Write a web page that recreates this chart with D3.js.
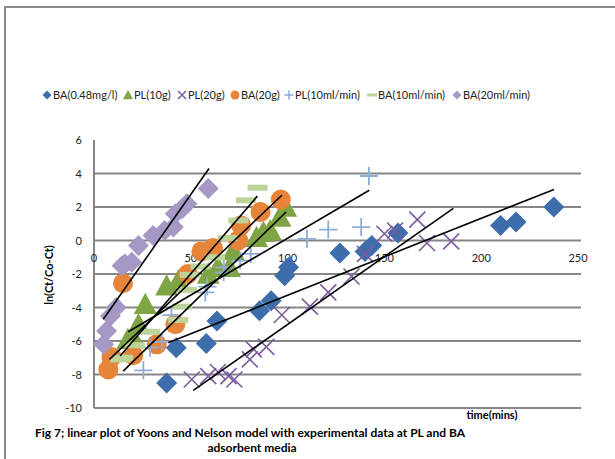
<!DOCTYPE html>
<html>
<head>
<meta charset="utf-8">
<script src="https://cdn.jsdelivr.net/npm/d3@7"></script>
<style>
  body { margin: 0; background: #fff; }
  svg { display: block; font-family: Lato, "Open Sans", sans-serif; }
</style>
</head>
<body>
<svg id="chart" width="615" height="459"></svg>
<script>
// series values: [time (mins), ln(Ct/Co-Ct)]
var ba048 = [[37.5,-8.5],[42.5,-6.4],[58,-6.15],[63.5,-4.8],[85.5,-4.2],[91.5,-3.6],
  [98.5,-2.1],[100.5,-1.6],[127,-0.75],[140,-0.65],[143.5,-0.3],[157,0.45],[210,0.9],[218,1.1],[237.5,2.0]];
var pl10g = [[17.5,-5.9],[20.5,-5.8],[23,-5.0],[26.5,-3.8],[37.5,-2.7],[43.5,-2.4],[59,-2.0],[64,-1.6],
  [70,-1.6],[72,-0.6],[84,0.2],[87.5,0.5],[91,0.6],[96,1.4],[99,2.0]];
var pl20g = [[50.5,-8.3],[59,-8.1],[64,-7.85],[69.5,-8.1],[72.5,-8.3],[80.5,-7.1],[82.5,-6.5],[89,-6.35],
  [97,-4.45],[111.5,-3.95],[121,-3.1],[133,-2.15],[140,-0.8],[150,0.4],[155.5,0.6],[167,1.25],[172,-0.15],[184.5,-0.05]];
var ba20g = [[7.4,-7.7],[9,-6.95],[15,-2.55],[20.3,-6.85],[32.4,-6.2],[42,-5.0],[48.5,-2.0],[55.5,-0.65],
  [61.5,-0.45],[74.5,0.0],[76,0.9],[86,1.7],[96.5,2.45]];
var pl10ml = [[25.5,-7.75],[29,-6.4],[35,-6.05],[40,-4.45],[57.5,-3.1],[58.5,-2.75],[67,-1.6],[67,-1.9],
  [75.5,-1.2],[81,-0.8],[110,0.1],[121,0.65],[138,0.8],[142,3.85]];
var ba10ml = [[13.5,-7.1],[15,-7.0],[21,-6.25],[29,-5.45],[43.5,-4.75],[45.5,-3.95],[48,-2.95],[49.5,-2.05],
  [55,-1.55],[62.5,-1.0],[69,0.15],[74.5,1.2],[78.5,2.4],[84.5,3.15]];
var ba20ml = [[5,-6.2],[6.5,-5.4],[8.5,-4.5],[11.5,-4.0],[14.5,-1.5],[16,-1.4],[19.5,-1.3],[23,-0.3],
  [30.5,0.3],[36.5,0.6],[41,0.8],[42,1.6],[45.5,1.9],[48,2.2],[59,3.1]];

var seriesNames = ["BA(0.48mg/l)","PL(10g)","PL(20g)","BA(20g)","PL(10ml/min)","BA(10ml/min)","BA(20ml/min)"];
var seriesData = [ba048, pl10g, pl20g, ba20g, pl10ml, ba10ml, ba20ml];
var seriesColors = ["#3d6daa","#7fa444","#7c5c9e","#e6843a","#8eacd8","#bcd49a","#a598c4"];
var seriesMarks = ["diamond","triangle","cross","circle","plus","dash","diamond"];

// linear trendlines: [x1, y1, x2, y2]
var trendlines = [[38.3,-6.1,237.6,3.05],[15.1,-7.8,99.2,1.7],[51.3,-8.95,185.6,1.92],
  [8,-7.1,97,2.7],[17.7,-5.45,142.2,3.0],[13.5,-6.9,84.4,2.65],[4.8,-4.7,59.4,4.3]];

var yTicks = [6,4,2,0,-2,-4,-6,-8,-10];
var xTicks = [0,50,100,150,200,250];
var legendX = [47,128,182,235,289,372,457];

var svg = d3.select("#chart");

// outer frame
svg.append("rect").attr("x",5).attr("y",7).attr("width",640).attr("height",480)
  .attr("fill","none").attr("stroke","#8a8a8a").attr("stroke-width",2);

var x = d3.scaleLinear().domain([0,250]).range([94,578]);
var y = d3.scaleLinear().domain([-10,6]).range([408,140]);

// gridlines
svg.append("g").selectAll("line")
  .data(yTicks.filter(function(d){ return d < 6; }))
  .enter().append("line")
  .attr("x1",x(0)).attr("x2",581)
  .attr("y1",function(d){ return y(d); }).attr("y2",function(d){ return y(d); })
  .attr("stroke","#868686").attr("stroke-width",2);

svg.append("line").attr("x1",x(0)).attr("x2",x(0)).attr("y1",y(6)).attr("y2",y(-10))
  .attr("stroke","#868686").attr("stroke-width",2);

// y tick labels
svg.append("g").selectAll("text").data(yTicks).enter().append("text")
  .attr("x",82).attr("y",function(d){ return y(d) + 4; })
  .attr("text-anchor","end").attr("font-size",11).attr("fill","#222")
  .text(function(d){ return d; });

// x tick labels (axis crosses at 0)
svg.append("g").selectAll("text").data(xTicks).enter().append("text")
  .attr("x",function(d){ return x(d); }).attr("y",y(0) + 21)
  .attr("text-anchor","middle").attr("font-size",11).attr("fill","#222")
  .text(function(d){ return d; });

function drawMark(g, type, color, s) {
  // s = half size
  if (type === "diamond") {
    g.append("path").attr("d","M0,"+(-s)+"L"+s+",0L0,"+s+"L"+(-s)+",0Z").attr("fill",color);
  } else if (type === "triangle") {
    g.append("path").attr("d","M0,"+(-s)+"L"+s+","+(s*0.85)+"L"+(-s)+","+(s*0.85)+"Z").attr("fill",color);
  } else if (type === "circle") {
    g.append("circle").attr("r",s).attr("fill",color);
  } else if (type === "plus") {
    g.append("path").attr("d","M"+(-s)+",0H"+s+"M0,"+(-s)+"V"+s)
      .attr("stroke",color).attr("stroke-width",Math.max(1.5,s/5)).attr("fill","none");
  } else if (type === "cross") {
    g.append("path").attr("d","M"+(-s)+","+(-s)+"L"+s+","+s+"M"+(-s)+","+s+"L"+s+","+(-s))
      .attr("stroke",color).attr("stroke-width",Math.max(1.5,s/5)).attr("fill","none");
  } else if (type === "dash") {
    g.append("rect").attr("x",-s).attr("y",-s*0.3).attr("width",2*s).attr("height",s*0.6).attr("fill",color);
  }
}

var sizes = {diamond:10.5, triangle:11.5, circle:10, plus:9, cross:8, dash:10};

seriesData.forEach(function(data, i){
  var g = svg.append("g");
  data.forEach(function(d){
    var m = g.append("g").attr("transform","translate(" + x(d[0]) + "," + y(d[1]) + ")");
    drawMark(m, seriesMarks[i], seriesColors[i], sizes[seriesMarks[i]]);
  });
});

// trendlines on top
svg.append("g").selectAll("line").data(trendlines).enter().append("line")
  .attr("x1",function(d){ return x(d[0]); }).attr("y1",function(d){ return y(d[1]); })
  .attr("x2",function(d){ return x(d[2]); }).attr("y2",function(d){ return y(d[3]); })
  .attr("stroke","#000").attr("stroke-width",1.6);

// legend
var lg = svg.append("g");
seriesNames.forEach(function(name, i){
  var m = lg.append("g").attr("transform","translate(" + legendX[i] + ",95)");
  var smallSize = {diamond:4.5, triangle:5, circle:4.5, plus:4.5, cross:4, dash:5};
  drawMark(m, seriesMarks[i], seriesColors[i], smallSize[seriesMarks[i]]);
  lg.append("text").attr("x",legendX[i] + 6).attr("y",99)
    .attr("font-size",11).attr("fill","#222").text(name);
});

// axis titles
svg.append("text").attr("transform","translate(53,275) rotate(-90)")
  .attr("text-anchor","middle").attr("font-size",11).attr("font-weight","bold")
  .text("ln(Ct/Co-Ct)");
svg.append("text").attr("x",492).attr("y",419).attr("text-anchor","middle")
  .attr("font-size",11).attr("font-weight","bold").text("time(mins)");

// caption
svg.append("text").attr("x",35).attr("y",437).attr("font-size",12).attr("font-weight","bold")
  .text("Fig 7; linear plot of Yoons and Nelson model with experimental data at PL and BA");
svg.append("text").attr("x",252).attr("y",452).attr("text-anchor","middle").attr("font-size",12).attr("font-weight","bold")
  .text("adsorbent media");
</script>
</body>
</html>
